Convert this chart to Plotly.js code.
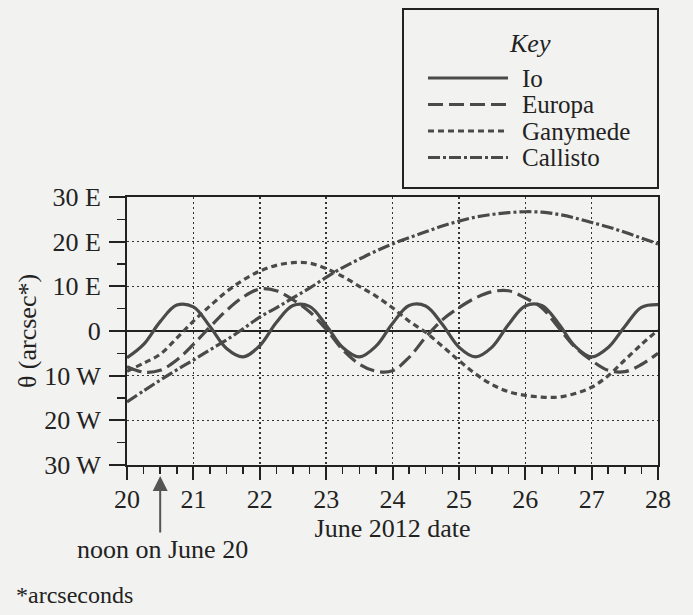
<!DOCTYPE html>
<html>
<head>
<meta charset="utf-8">
<script src="https://cdn.plot.ly/plotly-3.0.1.min.js"></script>
<style>html,body{margin:0;padding:0;background:#f2f2f0;}#chart{width:693px;height:615px;}</style>
</head>
<body>
<div id="chart"></div>
<script>
// ---- data ----
const days = [20,20.25,20.5,20.75,21,21.25,21.5,21.75,22,22.25,22.5,22.75,23,23.25,23.5,23.75,24,24.25,24.5,24.75,25,25.25,25.5,25.75,26,26.25,26.5,26.75,27,27.25,27.5,27.75,28];
const io = [-6.0,-3.0,2.1,5.8,5.4,1.0,-3.9,-5.8,-3.3,1.9,5.7,5.5,1.3,-3.7,-5.8,-3.4,1.7,5.7,5.6,1.5,-3.6,-5.8,-3.6,1.5,5.6,5.7,1.7,-3.4,-5.8,-3.7,1.0,5.3,5.9];
const europa = [-8.0,-9.2,-8.8,-6.5,-3.0,0.9,4.6,7.6,9.4,9.0,7.0,4.3,0.4,-4.2,-7.4,-9.0,-8.9,-5.9,-1.4,2.5,5.2,7.4,8.8,9.0,7.4,5.2,0.8,-3.6,-6.6,-8.8,-9.1,-7.5,-5.0];
const ganymede = [-9.0,-7.2,-5.2,-1.6,2.2,5.6,8.8,11.4,13.4,14.7,15.3,15.2,14.0,12.2,10.0,7.8,5.2,2.2,-0.3,-3.4,-6.6,-9.6,-12.0,-13.6,-14.4,-14.8,-14.8,-14.0,-12.6,-10.0,-6.5,-3.0,0.2];
const callisto = [-15.9,-13.4,-11.0,-8.7,-6.5,-4.2,-2.0,0.5,3.1,5.2,7.4,9.6,12.0,14.2,16.1,17.9,19.5,20.9,22.2,23.5,24.6,25.5,26.1,26.5,26.7,26.6,26.1,25.3,24.3,23.3,22.1,20.8,19.5];
const seriesNames = ['Io','Europa','Ganymede','Callisto'];
const xTickVals = [20,21,22,23,24,25,26,27,28];
const yTickVals = [30,20,10,0,-10,-20,-30];
const yTickText = ['30 E','20 E','10 E','0','10 W','20 W','30 W'];

// ---- styling ----
const FONT = 'Liberation Serif';
const INK = '#222';
const CURVE = '#4a4a4a';
const BG = '#f2f2f0';
const dashes = ['solid','15px,6px','6px,4px','12px,3px,3px,3px'];
const seriesValues = [io, europa, ganymede, callisto];

const W = 693, H = 615, L = 127, R = 35, T = 197, B = 150;
const pw = W - L - R, ph = H - T - B;
const px = x => (x - L) / pw;
const py = y => (H - B - y) / ph;

const traces = seriesValues.map((vals, i) => ({
  x: days, y: vals, name: seriesNames[i], type: 'scatter', mode: 'lines',
  line: {color: CURVE, width: 3.2, dash: dashes[i], shape: 'spline', smoothing: 1},
  hoverinfo: 'skip'
}));

// key (legend) drawn as a boxed block
const rowY = [78, 104.5, 131, 157.5];
const shapes = [{
  type: 'rect', xref: 'paper', yref: 'paper',
  x0: px(403), x1: px(658), y0: py(188), y1: py(9),
  line: {color: INK, width: 2}, fillcolor: BG, layer: 'above'
}];
const annotations = [{
  xref: 'paper', yref: 'paper', x: px(530), y: py(43), text: '<i>Key</i>',
  showarrow: false, xanchor: 'center', yanchor: 'middle', font: {family: FONT, size: 26, color: INK}
}];
seriesNames.forEach((nm, i) => {
  shapes.push({type: 'line', xref: 'paper', yref: 'paper', x0: px(428), x1: px(508), y0: py(rowY[i]), y1: py(rowY[i]),
    line: {color: CURVE, width: 3, dash: dashes[i]}, layer: 'above'});
  annotations.push({xref: 'paper', yref: 'paper', x: px(521), y: py(rowY[i]), text: nm, showarrow: false,
    xanchor: 'left', yanchor: 'middle', borderpad: 0, font: {family: FONT, size: 25, color: INK}});
});

// arrow to noon on June 20
annotations.push({
  xref: 'x', yref: 'paper', x: 20.5, y: py(476), text: '', showarrow: true,
  ax: 0, ay: 58, arrowhead: 2, arrowsize: 1.5, arrowwidth: 2, arrowcolor: '#555'
});
annotations.push({
  xref: 'paper', yref: 'paper', x: px(162), y: py(549), text: 'noon on June 20', showarrow: false,
  xanchor: 'center', yanchor: 'middle', font: {family: FONT, size: 26, color: INK}
});
annotations.push({
  xref: 'paper', yref: 'paper', x: px(14), y: py(595), text: '*arcseconds', showarrow: false,
  xanchor: 'left', yanchor: 'middle', font: {family: FONT, size: 24, color: INK}
});

const layout = {
  width: W, height: H,
  margin: {l: L, r: R, t: T, b: B, pad: 0},
  paper_bgcolor: BG, plot_bgcolor: BG,
  showlegend: false,
  font: {family: FONT, size: 26, color: INK},
  xaxis: {
    range: [20, 28], tickmode: 'array', tickvals: xTickVals,
    ticks: 'outside', ticklen: 13, tickwidth: 2, tickcolor: INK, ticklabelstandoff: -3,
    tickfont: {family: FONT, size: 26, color: INK},
    showline: true, mirror: true, linewidth: 2, linecolor: INK,
    showgrid: true, gridcolor: '#333', gridwidth: 1.5, griddash: '2px,3px',
    zeroline: false,
    minor: {tickmode: 'linear', tick0: 20, dtick: 0.25, ticks: 'outside', ticklen: 7, tickwidth: 1.5, tickcolor: INK, showgrid: false},
    title: {text: 'June 2012 date', standoff: 4, font: {family: FONT, size: 26, color: INK}},
    fixedrange: true, automargin: false
  },
  yaxis: {
    range: [-30, 30], tickmode: 'array', tickvals: yTickVals, ticktext: yTickText,
    ticks: 'outside', ticklen: 16, tickwidth: 2, tickcolor: INK, ticklabelstandoff: 3,
    tickfont: {family: FONT, size: 26, color: INK},
    showline: true, mirror: true, linewidth: 2, linecolor: INK,
    showgrid: true, gridcolor: '#333', gridwidth: 1.5, griddash: '2px,3px',
    zeroline: true, zerolinecolor: INK, zerolinewidth: 1.5,
    minor: {tickmode: 'linear', tick0: 0, dtick: 5, ticks: 'outside', ticklen: 8, tickwidth: 1.5, tickcolor: INK, showgrid: false},
    title: {text: 'θ (arcsec*)', standoff: 0, font: {family: FONT, size: 26, color: INK}},
    fixedrange: true, automargin: false
  },
  shapes: shapes,
  annotations: annotations
};

Plotly.newPlot('chart', traces, layout, {staticPlot: true, displayModeBar: false});
</script>
</body>
</html>
